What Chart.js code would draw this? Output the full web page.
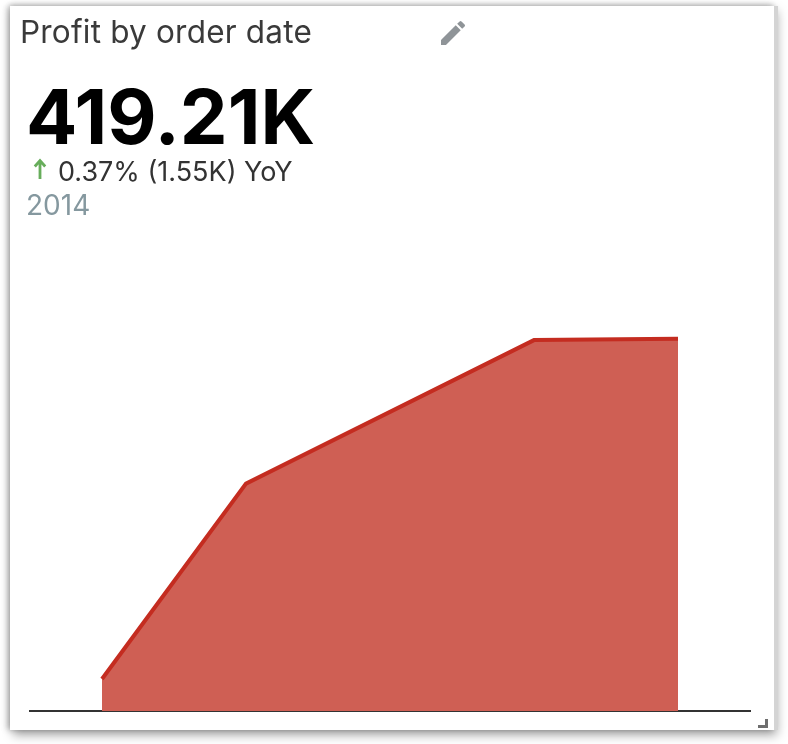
<!DOCTYPE html>
<html>
<head>
<meta charset="utf-8">
<title>Profit by order date</title>
<script src="https://cdn.jsdelivr.net/npm/chart.js@4"></script>
<style>
  html, body { margin: 0; padding: 0; width: 788px; height: 744px; overflow: hidden; background: #fff; font-family: Inter, sans-serif; }
  #card { position: absolute; left: 10px; top: 6px; width: 764px; height: 724px; background: #fff;
          box-shadow: 4px 0 0 #d4d4d4, 3px 5px 10px rgba(0,0,0,.35), -3px 0 6px rgba(0,0,0,.22), 0 -2px 5px rgba(0,0,0,.14); }
  #chart { position: absolute; left: 0; top: 0; }
  .txt { position: absolute; white-space: nowrap; line-height: 1; }
  #title { left: 20px; top: 16px; font-size: 31.5px; color: #3a3a3a; letter-spacing: .2px; }
  #value { left: 26px; top: 78px; font-size: 76px; font-weight: 700; color: #000; }
  #delta { left: 58px; top: 158px; font-size: 27px; color: #333; }
  #year  { left: 26px; top: 191px; font-size: 28px; color: #85989f; }
  svg { position: absolute; }
</style>
</head>
<body>
<div id="card"></div>
<canvas id="chart" width="788" height="744"></canvas>
<div class="txt" id="title">Profit by order date</div>
<div class="txt" id="value">419.21K</div>
<div class="txt" id="delta">0.37% (1.55K) YoY</div>
<div class="txt" id="year">2014</div>
<svg style="left:436px;top:17px" width="34" height="32" viewBox="0 0 24 24"><path fill="#8f9498" d="M3 17.25V21h3.75L17.81 9.94l-3.75-3.75L3 17.25zM20.71 7.04a1 1 0 0 0 0-1.41l-2.34-2.34a1 1 0 0 0-1.41 0l-1.83 1.83 3.75 3.75 1.83-1.83z"/></svg>
<svg style="left:32px;top:157px" width="16" height="24" viewBox="0 0 16 24"><path fill="none" stroke="#67ad5b" stroke-width="2.8" d="M8 22V4M2.8 9.5 8 3.6l5.2 5.9"/></svg>
<svg style="left:756px;top:716px" width="14" height="12" viewBox="0 0 14 12"><path fill="#6e6e6e" d="M2 9h7V3h3v9H2z"/></svg>
<script>
var years = [2010, 2011, 2013, 2014];
var profit = [36000, 256000, 417660, 419210];

new Chart(document.getElementById('chart').getContext('2d'), {
    type: 'line',
    data: {
        datasets: [{
            data: years.map(function(y, i) { return { x: y, y: profit[i] }; }),
            borderColor: '#c42c20',
            borderWidth: 4,
            backgroundColor: '#cf5f54',
            fill: 'origin',
            tension: 0,
            pointRadius: 0
        }]
    },
    options: {
        responsive: false,
        animation: false,
        layout: { padding: { left: 30, right: 38, top: 267, bottom: 25 } },
        plugins: { legend: { display: false }, tooltip: { enabled: false } },
        scales: {
            x: {
                type: 'linear',
                min: 2009.5,
                max: 2014.5,
                z: 1, // axis line sits over the area
                grid: { display: false },
                border: { display: true, color: '#333333', width: 2 },
                ticks: { display: false }
            },
            y: {
                display: false,
                min: 0,
                max: 500000
            }
        }
    }
});
</script>
</body>
</html>
